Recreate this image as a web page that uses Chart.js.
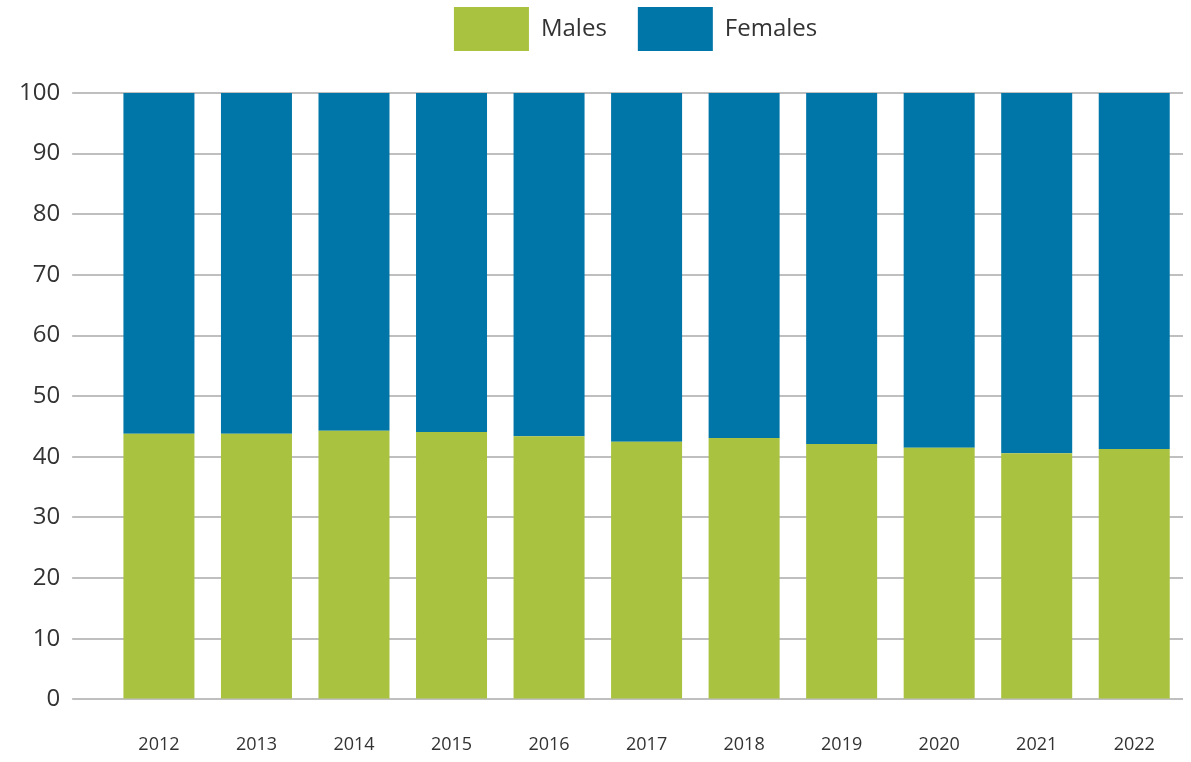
<!DOCTYPE html>
<html>
<head>
<meta charset="utf-8">
<script src="https://cdn.jsdelivr.net/npm/chart.js@4.4.1/dist/chart.umd.min.js"></script>
<style>
  html, body { margin: 0; padding: 0; background: #fff; }
  #wrap { width: 1191px; height: 762px; }
</style>
</head>
<body>
<div id="wrap"><canvas id="myChart" width="1191" height="762"></canvas></div>
<script>
// data (percent)
const years = ['2012', '2013', '2014', '2015', '2016', '2017', '2018', '2019', '2020', '2021', '2022'];
const males = [43.8, 43.8, 44.3, 44.1, 43.4, 42.5, 43.1, 42.1, 41.5, 40.6, 41.3];
const females = [56.2, 56.2, 55.7, 55.9, 56.6, 57.5, 56.9, 57.9, 58.5, 59.4, 58.7];
const yTicks = [0, 10, 20, 30, 40, 50, 60, 70, 80, 90, 100];

// give the legend some extra room underneath and nudge it left a bit
const legendSpace = {
  id: 'legendSpace',
  beforeInit(chart) {
    const origFit = chart.legend.fit;
    chart.legend.fit = function () {
      origFit.call(this);
      this.height += 32;
    };
  },
  afterLayout(chart) {
    chart.legend.left -= 11;
    chart.legend.right -= 11;
  },
};

const ctx = document.getElementById('myChart').getContext('2d');

const myChart = new Chart(ctx, {
  type: 'bar',
  data: {
    labels: years,
    datasets: [
      {
        label: 'Males',
        data: males,
        backgroundColor: '#a9c23f',
        barPercentage: 0.728,
        categoryPercentage: 1,
      },
      {
        label: 'Females',
        data: females,
        backgroundColor: '#0076a8',
        barPercentage: 0.728,
        categoryPercentage: 1,
      },
    ],
  },
  plugins: [legendSpace],
  options: {
    responsive: false,
    animation: false,
    layout: {
      padding: { top: -24, right: 8, left: 7, bottom: -21 },
    },
    plugins: {
      tooltip: { enabled: false },
      legend: {
        position: 'top',
        fullSize: false,
        labels: {
          boxWidth: 75,
          boxHeight: 44,
          padding: 31,
          color: '#333333',
          font: { family: 'Open Sans', size: 24 },
        },
      },
    },
    scales: {
      x: {
        stacked: true,
        grid: { display: false },
        border: { display: false },
        ticks: {
          color: '#333333',
          padding: 27,
          font: { family: 'Open Sans', size: 18 },
        },
      },
      y: {
        stacked: true,
        min: 0,
        max: 100,
        afterBuildTicks: (axis) => {
          axis.ticks = yTicks.map(v => ({ value: v }));
        },
        grid: {
          color: '#bfbfbf',
          lineWidth: 2,
          tickLength: 38,
        },
        border: { display: false },
        ticks: {
          color: '#333333',
          padding: 12,
          font: { family: 'Open Sans', size: 24 },
        },
      },
    },
  },
});
</script>
</body>
</html>
